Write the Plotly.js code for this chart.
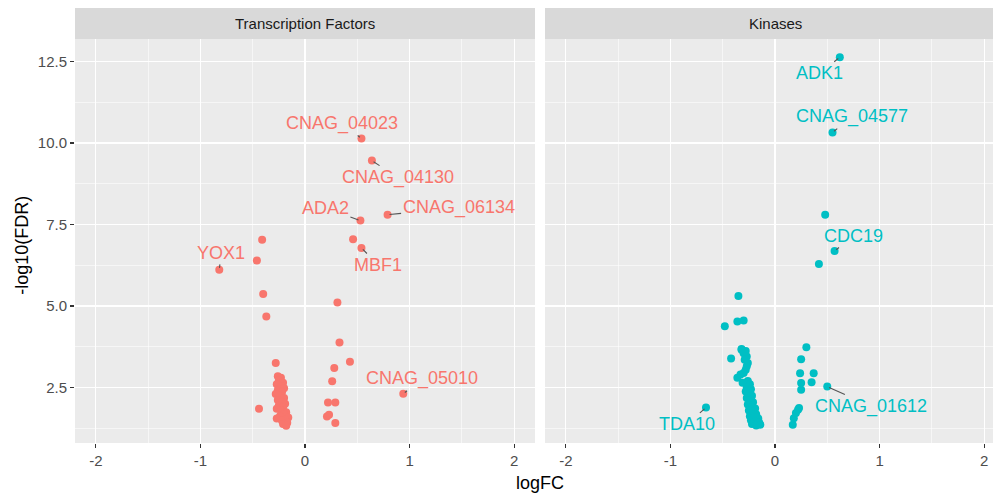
<!DOCTYPE html>
<html>
<head>
<meta charset="utf-8">
<script src="https://cdn.plot.ly/plotly-3.0.1.min.js"></script>
<style>
html, body { margin: 0; padding: 0; overflow: hidden; background: #fff; }
#chart { width: 1010px; height: 493px; }
</style>
</head>
<body>
<div id="chart"></div>
<script>
// ---- Data: Transcription Factors ----
const tfGene = ['CNAG_04023','CNAG_04130','ADA2','CNAG_06134','MBF1','YOX1','CNAG_05010',
  '','','','','','','','','','','','','','','','','',
  '','','','','','','','','','','','','','','','','','','','','','','','','','','',''];
const tfLogFC = [0.54, 0.64, 0.53, 0.79, 0.54, -0.82, 0.94,
  0.46, -0.41, -0.46, -0.40, -0.37, 0.31, 0.33, 0.43, 0.28, 0.26, 0.22, 0.29, 0.21, 0.23, 0.29, -0.44, -0.28,
  -0.26, -0.23, -0.25, -0.21, -0.27, -0.23, -0.20, -0.26, -0.22, -0.28, -0.24, -0.20, -0.26, -0.22, -0.19,
  -0.25, -0.21, -0.27, -0.23, -0.18, -0.20, -0.24, -0.16, -0.19, -0.27, -0.22, -0.17, -0.21, -0.18];
const tfFDR = [10.14, 9.46, 7.62, 7.80, 6.78, 6.11, 2.31,
  7.05, 7.03, 6.40, 5.37, 4.68, 5.11, 3.88, 3.29, 3.10, 2.69, 2.04, 2.04, 1.61, 1.67, 1.41, 1.85, 3.25,
  2.85, 2.80, 2.72, 2.65, 2.60, 2.55, 2.48, 2.42, 2.36, 2.30, 2.25, 2.18, 2.12, 2.06, 2.00,
  1.95, 1.90, 1.85, 1.80, 1.74, 1.68, 1.62, 1.58, 1.52, 1.55, 1.48, 1.42, 1.38, 1.33];

// ---- Data: Kinases ----
const kinGene = ['ADK1','CNAG_04577','CDC19','CNAG_01612','TDA10',
  '','','','','','','','','','','','','','','','','','','',
  '','','','','','','','','','','','','','','','','','','','','','','','','','','','','','','','','','','',''];
const kinLogFC = [0.62, 0.55, 0.57, 0.50, -0.66,
  0.48, 0.42, -0.35, -0.48, -0.36, -0.30, -0.42, -0.32,
  0.30, 0.25, 0.24, 0.37, 0.25, 0.35, 0.25, 0.23, 0.22, 0.20, 0.18, 0.17,
  -0.32, -0.28, -0.30, -0.27, -0.29, -0.26, -0.36, -0.33, -0.30, -0.28, -0.27, -0.26, -0.31, -0.24,
  -0.27, -0.23, -0.28, -0.25, -0.22, -0.27, -0.24, -0.21, -0.26, -0.22, -0.19, -0.25, -0.21, -0.18,
  -0.24, -0.20, -0.16, -0.23, -0.19, -0.15, -0.22, -0.18, -0.14];
const kinFDR = [12.63, 10.32, 6.69, 2.53, 1.89,
  7.80, 6.29, 5.31, 4.38, 4.53, 4.56, 3.39, 3.68,
  3.74, 3.37, 2.94, 2.94, 2.64, 2.66, 2.43, 1.87, 1.82, 1.72, 1.56, 1.36,
  3.66, 3.62, 3.55, 3.45, 3.35, 3.25, 2.80, 2.90, 2.95, 3.05, 3.15, 2.70, 2.65, 2.60,
  2.50, 2.45, 2.38, 2.30, 2.25, 2.18, 2.10, 2.05, 1.98, 1.92, 1.86, 1.80, 1.74, 1.68,
  1.62, 1.58, 1.55, 1.50, 1.45, 1.42, 1.38, 1.34, 1.36];

const panelTitles = ['Transcription Factors', 'Kinases'];
const xTicks = [-2, -1, 0, 1, 2];
const yTicks = [2.5, 5.0, 7.5, 10.0, 12.5];

// ---- Styles (label offsets in pixels, not data) ----
const labelOffset = {
  'CNAG_04023': [-19, -15], 'CNAG_04130': [26, 17], 'ADA2': [-35, -13],
  'CNAG_06134': [71, -7], 'MBF1': [17, 17], 'YOX1': [2, -17], 'CNAG_05010': [19, -15],
  'ADK1': [-20, 16], 'CNAG_04577': [19, -16], 'CDC19': [19, -15],
  'CNAG_01612': [44, 20], 'TDA10': [-19, 17]
};
const colTF = '#F8766D', colKin = '#00BFC4';
const FONT = 'Liberation Sans, Arial, Helvetica, sans-serif';

const traces = [
  { type: 'scatter', mode: 'markers', x: tfLogFC, y: tfFDR, xaxis: 'x', yaxis: 'y',
    marker: { color: colTF, size: 8 }, hoverinfo: 'x+y', showlegend: false },
  { type: 'scatter', mode: 'markers', x: kinLogFC, y: kinFDR, xaxis: 'x2', yaxis: 'y2',
    marker: { color: colKin, size: 8 }, hoverinfo: 'x+y', showlegend: false }
];

const annotations = [];
function addLabels(genes, xs, ys, xref, yref, color) {
  genes.forEach((g, i) => {
    if (!g) return;
    const off = labelOffset[g] || [15, -15];
    annotations.push({
      x: xs[i], y: ys[i], xref: xref, yref: yref, text: g,
      showarrow: true, arrowhead: 0, arrowwidth: 1.1, arrowcolor: '#555555',
      ax: off[0], ay: off[1], standoff: 2,
      font: { family: FONT, size: 18, color: color }
    });
  });
}
addLabels(tfGene, tfLogFC, tfFDR, 'x', 'y', colTF);
addLabels(kinGene, kinLogFC, kinFDR, 'x2', 'y2', colKin);

// strip titles
['x', 'x2'].forEach((xr, k) => {
  annotations.push({
    xref: xr + ' domain', yref: 'paper', x: 0.5, y: 1 + 15.5 / 404, yanchor: 'middle',
    text: panelTitles[k], showarrow: false,
    font: { family: FONT, size: 15, color: '#1A1A1A' }
  });
});
// axis titles
annotations.push({ xref: 'paper', yref: 'paper', x: 0.5, y: -40 / 404, yanchor: 'middle',
  text: 'logFC', showarrow: false, font: { family: FONT, size: 18, color: '#000' } });
annotations.push({ xref: 'paper', yref: 'paper', x: -53 / 930, y: 0.488, xanchor: 'center', yanchor: 'middle',
  text: '-log10(FDR)', textangle: -90, showarrow: false, font: { family: FONT, size: 18, color: '#000' } });

const shapes = ['x', 'x2'].map(xr => ({
  type: 'rect', xref: xr + ' domain', yref: 'paper', x0: 0, x1: 1, y0: 1, y1: 1 + 31 / 404,
  fillcolor: '#D9D9D9', line: { width: 0 }, layer: 'below'
}));

function xAxis(domain, anchor) {
  return {
    domain: domain, anchor: anchor, range: [-2.2, 2.2], tickvals: xTicks, ticktext: xTicks.map(String),
    showgrid: true, gridcolor: '#FFFFFF', gridwidth: 1.1, zeroline: false, showline: false,
    ticks: 'outside', ticklen: 4, tickwidth: 1.1, tickcolor: '#333333',
    tickfont: { family: FONT, size: 15, color: '#4D4D4D' },
    minor: { dtick: 0.5, tick0: 0, showgrid: true, gridcolor: '#FFFFFF', gridwidth: 0.55, ticks: '' }
  };
}
function yAxis(anchor, showLabels) {
  return {
    anchor: anchor, domain: [0, 1], range: [0.8, 13.19], tickvals: yTicks,
    tickformat: '.1f', showticklabels: showLabels,
    showgrid: true, gridcolor: '#FFFFFF', gridwidth: 1.1, zeroline: false, showline: false,
    ticks: showLabels ? 'outside' : '', ticklen: 4, tickwidth: 1.1, tickcolor: '#333333',
    tickfont: { family: FONT, size: 15, color: '#4D4D4D' },
    minor: { dtick: 1.25, tick0: 0, showgrid: true, gridcolor: '#FFFFFF', gridwidth: 0.55, ticks: '' }
  };
}

const layout = {
  width: 1010, height: 493,
  margin: { l: 75, r: 5, t: 39, b: 50 },
  paper_bgcolor: '#FFFFFF', plot_bgcolor: '#EBEBEB',
  font: { family: FONT },
  xaxis: xAxis([0, 460 / 930], 'y'),
  xaxis2: xAxis([470 / 930, 1], 'y2'),
  yaxis: yAxis('x', true),
  yaxis2: yAxis('x2', false),
  annotations: annotations, shapes: shapes, showlegend: false
};

Plotly.newPlot('chart', traces, layout, { displayModeBar: false, staticPlot: true });
</script>
</body>
</html>
